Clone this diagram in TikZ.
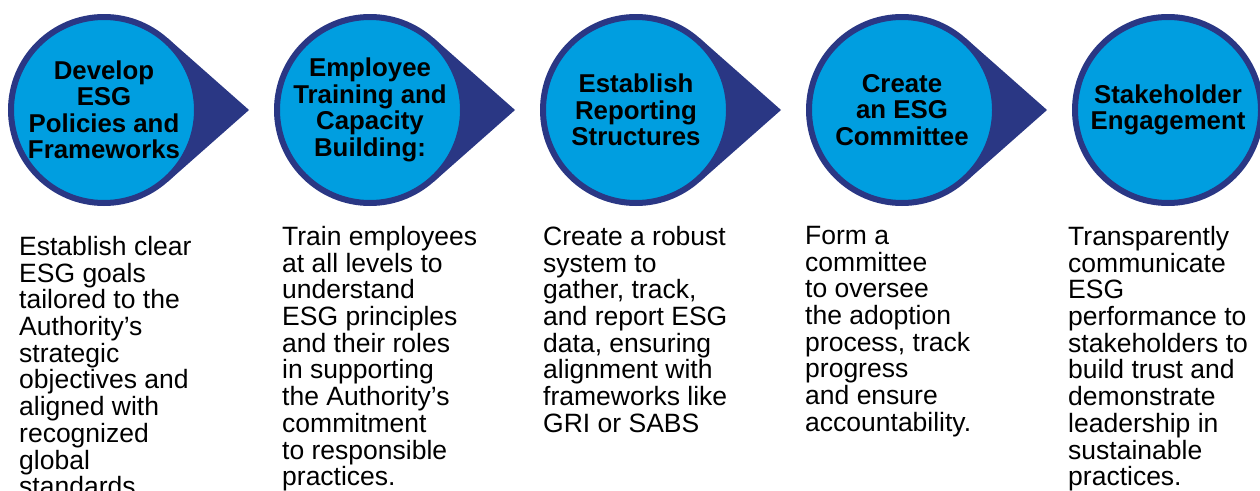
\documentclass[tikz,border=0pt]{standalone}
\usepackage{fontspec}
\setmainfont{Liberation Sans}
\usetikzlibrary{positioning,backgrounds}

\definecolor{esgblue}{RGB}{0,158,224}
\definecolor{esgnavy}{RGB}{42,55,132}

\begin{document}
\begin{tikzpicture}[x=1pt,y=-1pt,node distance=266pt,on grid,
    stage/.style={circle,draw=esgnavy,line width=6pt,fill=esgblue,
      minimum size=186pt,inner sep=0pt,align=center,
      font=\fontsize{25.8}{26.5}\selectfont\bfseries},
    blurb/.style={anchor=north west,align=left,inner sep=0pt,
      font=\fontsize{26.5}{26.7}\selectfont},
    pointer/.style={fill=esgnavy}]
   \useasboundingbox (0,0) rectangle (1260,490);
   \clip (0,0) rectangle (1260,490);

   % the five steps
   \node[stage] (s1) at (104,110) {Develop\\ESG\\Policies and\\Frameworks};
   \node[stage] (s2) [right=of s1] {Employee\\Training and\\Capacity\\Building:};
   \node[stage] (s3) [right=of s2] {Establish\\Reporting\\Structures};
   \node[stage] (s4) [right=of s3] {Create\\an ESG\\Committee};
   \node[stage] (s5) [right=of s4] {Stakeholder\\Engagement};

   % tips of the pointers
   \coordinate (t1) at ([xshift=145pt]s1.center);
   \coordinate (t2) at ([xshift=145pt]s2.center);
   \coordinate (t3) at ([xshift=145pt]s3.center);
   \coordinate (t4) at ([xshift=145pt]s4.center);
   \begin{pgfonlayer}{background}
     \fill[pointer] (s1.48) -- (t1) -- (s1.-48) -- cycle;
     \fill[pointer] (s2.48) -- (t2) -- (s2.-48) -- cycle;
     \fill[pointer] (s3.48) -- (t3) -- (s3.-48) -- cycle;
     \fill[pointer] (s4.48) -- (t4) -- (s4.-48) -- cycle;
   \end{pgfonlayer}

   % descriptions
   \node[blurb] (d1) at (19,236) {Establish clear\\ESG goals\\tailored to the\\Authority’s\\strategic\\objectives and\\aligned with\\recognized\\global\\standards.};
   \node[blurb] (d2) at (282,226) {Train employees\\at all levels to\\understand\\ESG principles\\and their roles\\in supporting\\the Authority’s\\commitment\\to responsible\\practices.};
   \node[blurb] (d3) at (543,226) {Create a robust\\system to\\gather, track,\\and report ESG\\data, ensuring\\alignment with\\frameworks like\\GRI or SABS};
   \node[blurb] (d4) at (805,226) {Form a\\committee\\to oversee\\the adoption\\process, track\\progress\\and ensure\\accountability.};
   \node[blurb] (d5) at (1068,226) {Transparently\\communicate\\ESG\\performance to\\stakeholders to\\build trust and\\demonstrate\\leadership in\\sustainable\\practices.};
\end{tikzpicture}
\end{document}
